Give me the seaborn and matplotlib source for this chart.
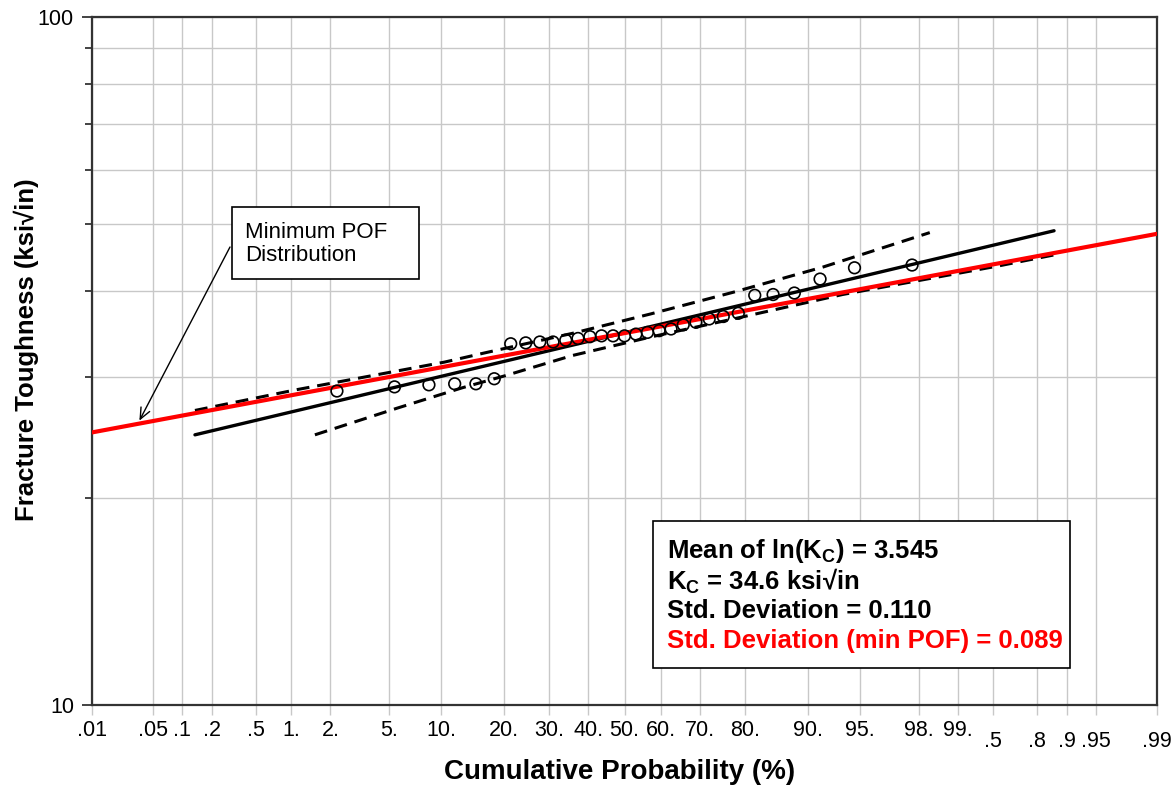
import numpy as np
import matplotlib
matplotlib.use("Agg")
import matplotlib.pyplot as plt
import matplotlib.ticker as mticker
from matplotlib.patches import Rectangle
import seaborn as sns
from statistics import NormalDist

# --- data ---
# cumulative probability (%) and fracture toughness (ksi*sqrt(in)) of the test points
prob = [2.23, 5.41, 8.60, 11.78, 14.97, 18.15, 21.34, 24.52, 27.71, 30.89,
        34.08, 37.26, 40.45, 43.63, 46.82, 50.00, 53.18, 56.37, 59.55, 62.74,
        65.92, 69.11, 72.29, 75.48, 78.66, 81.85, 85.03, 88.22, 91.40, 94.59, 97.77]
kc = [28.6, 29.0, 29.2, 29.3, 29.3, 29.8, 33.5, 33.6, 33.7, 33.7,
      33.9, 34.1, 34.3, 34.4, 34.4, 34.4, 34.6, 34.8, 35.0, 35.2,
      35.7, 36.0, 36.4, 36.7, 37.1, 39.4, 39.5, 39.7, 41.6, 43.2, 43.6]

# fitted lognormal line (black) and minimum POF line (red)
fit_prob = [0.135, 99.865]
fit_kc = [24.7, 48.9]
minpof_prob = [0.01, 99.99]
minpof_kc = [24.9, 48.4]

# dashed confidence bounds
upper_prob = [0.135, 1.07, 5.68, 10.4, 16.5, 35.9, 57.1, 77.6, 91.7, 98.35]
upper_kc = [26.8, 28.7, 30.6, 31.5, 32.5, 34.7, 37.0, 39.8, 43.3, 48.6]
lower_prob = [1.53, 5.6, 12.8, 20.2, 35.7, 57.6, 78.4, 93.6, 99.56, 99.865]
lower_kc = [24.7, 27.0, 28.9, 30.1, 32.2, 34.3, 36.5, 39.5, 43.5, 45.1]

tick_probs = [0.01, 0.05, 0.1, 0.2, 0.5, 1, 2, 5, 10, 20, 30, 40, 50, 60, 70,
              80, 90, 95, 98, 99, 99.5, 99.8, 99.9, 99.95, 99.99]
tick_labels = [".01", ".05", ".1", ".2", ".5", "1.", "2.", "5.", "10.", "20.",
               "30.", "40.", "50.", "60.", "70.", "80.", "90.", "95.", "98.",
               "99.", ".5", ".8", ".9", ".95", ".99"]

stats_lines = ["Mean of ln(K$_\\mathbf{C}$) = 3.545",
               "K$_\\mathbf{C}$ = 34.6 ksi\u221ain",
               "Std. Deviation = 0.110",
               "Std. Deviation (min POF) = 0.089"]
stats_colors = ["black", "black", "black", "#ff0000"]

sns.set_style("whitegrid")
plt.rcParams["font.family"] = ["Liberation Sans", "DejaVu Sans"]
plt.rcParams["mathtext.fontset"] = "custom"
plt.rcParams["mathtext.rm"] = "Liberation Sans"
plt.rcParams["mathtext.bf"] = "Liberation Sans:bold"
plt.rcParams["text.color"] = "black"

fig = plt.figure(figsize=(11.75, 7.86), dpi=100)
ax = fig.add_axes([92 / 1175, 1 - 705 / 786, 1065 / 1175, 688 / 786])

dash = (0, (4.2, 2.6))
sns.lineplot(x=upper_prob, y=upper_kc, ax=ax, color="black", lw=2.2,
             linestyle=dash, estimator=None, sort=False, zorder=3)
sns.lineplot(x=lower_prob, y=lower_kc, ax=ax, color="black", lw=2.2,
             linestyle=dash, estimator=None, sort=False, zorder=3)
sns.lineplot(x=fit_prob, y=fit_kc, ax=ax, color="black", lw=2.4,
             estimator=None, sort=False, zorder=4)
sns.lineplot(x=minpof_prob, y=minpof_kc, ax=ax, color="#ff0000", lw=3.0,
             estimator=None, sort=False, zorder=5)
sns.scatterplot(x=prob, y=kc, ax=ax, marker="o", s=70, facecolor="none",
                edgecolor="black", linewidth=1.2, zorder=6)

# normal probability scale on x
nd = NormalDist()
ppf = np.vectorize(lambda p: nd.inv_cdf(min(max(p / 100.0, 1e-9), 1 - 1e-9)),
                   otypes=[float])
cdf = np.vectorize(lambda z: nd.cdf(z) * 100.0, otypes=[float])
ax.set_xscale("function", functions=(ppf, cdf))
ax.set_xlim(0.01, 99.99)
ax.set_xticks(tick_probs)
ax.set_xticklabels(tick_labels)
ax.xaxis.set_minor_locator(mticker.NullLocator())

ax.set_yscale("log")
ax.set_ylim(10, 100)
ax.set_yticks([10, 100])
ax.set_yticklabels(["10", "100"])
ax.yaxis.set_minor_locator(mticker.FixedLocator([20, 30, 40, 50, 60, 70, 80, 90]))
ax.yaxis.set_minor_formatter(mticker.NullFormatter())

ax.grid(False)
ax.grid(True, axis="x", which="major", color="#c8c8c8", lw=1.0)
ax.grid(True, axis="y", which="both", color="#c8c8c8", lw=1.0)

ax.tick_params(axis="x", which="major", bottom=True, length=7, width=1,
               color="#c8c8c8", direction="out", labelsize=15.5,
               labelcolor="black", pad=4)
ax.tick_params(axis="y", which="major", left=True, length=7, width=1.2,
               color="#222222", direction="out", labelsize=15.5,
               labelcolor="black", pad=6)
ax.tick_params(axis="y", which="minor", left=True, length=5, width=1.2,
               color="#222222", direction="out")
for t in ax.xaxis.get_major_ticks()[-5:]:
    t.set_pad(12)
ax.xaxis.get_major_ticks()[-1].tick1line.set_color("#333333")

for s in ax.spines.values():
    s.set_color("#333333")
    s.set_linewidth(1.6)

ax.set_xlabel("Cumulative Probability (%)", fontsize=20, fontweight="bold",
              color="black")
ax.xaxis.set_label_coords(0.4958, -0.078)
ax.set_ylabel("Fracture Toughness (ksi\u221ain)", fontsize=18.5,
              fontweight="bold", color="black")
ax.yaxis.set_label_coords(-0.050, 0.517)

# "Minimum POF Distribution" callout
fig.add_artist(Rectangle((232 / 1175, 1 - 279 / 786), 187 / 1175, 72 / 786,
                         transform=fig.transFigure, facecolor="white",
                         edgecolor="black", lw=1.2, zorder=10))
fig.text(245 / 1175, 1 - 244 / 786, "Minimum POF\nDistribution", fontsize=16,
         color="black", va="center", ha="left", linespacing=1.1, zorder=11)
ax.annotate("", xy=(0.0352, 25.9), xycoords="data",
            xytext=(230 / 1175, 1 - 247 / 786), textcoords="figure fraction",
            arrowprops=dict(arrowstyle="->,head_length=0.8,head_width=0.35",
                            color="black", lw=1.0, shrinkA=0, shrinkB=0),
            zorder=9)

# statistics box
fig.add_artist(Rectangle((653 / 1175, 1 - 668 / 786), 417 / 1175, 147 / 786,
                         transform=fig.transFigure, facecolor="white",
                         edgecolor="black", lw=1.2, zorder=10))
for i, (line, col) in enumerate(zip(stats_lines, stats_colors)):
    fig.text(667 / 1175, 1 - (551 + 30 * i) / 786, line, fontsize=18.5,
             fontweight="bold", color=col, va="center", ha="left", zorder=11)

fig.savefig("out.png", dpi=100, facecolor="white")
